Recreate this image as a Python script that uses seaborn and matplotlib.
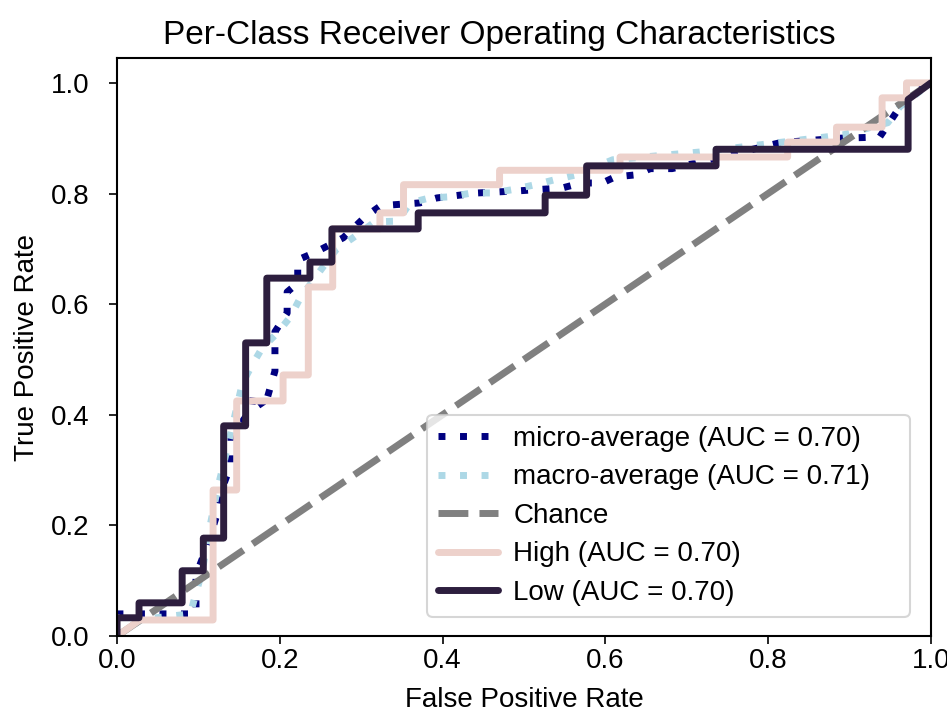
import matplotlib
matplotlib.use("Agg")
import matplotlib.pyplot as plt
import seaborn as sns

# ---- data ----
class_names = ["High", "Low"]
class_auc = [0.70, 0.70]
micro_auc = 0.70
macro_auc = 0.71

high_fpr = [0.0, 0.028, 0.118, 0.118, 0.147, 0.147, 0.204, 0.204, 0.235, 0.235, 0.265, 0.265,
            0.323, 0.323, 0.352, 0.352, 0.47, 0.47, 0.618, 0.618, 0.824, 0.824, 0.884, 0.884,
            0.94, 0.94, 0.97, 0.97, 1.0]
high_tpr = [0.0, 0.029, 0.029, 0.264, 0.264, 0.425, 0.425, 0.472, 0.472, 0.631, 0.631, 0.736,
            0.736, 0.765, 0.765, 0.816, 0.816, 0.842, 0.842, 0.866, 0.866, 0.893, 0.893, 0.92,
            0.92, 0.973, 0.973, 1.0, 1.0]

low_fpr = [0.0, 0.0, 0.027, 0.027, 0.08, 0.08, 0.106, 0.106, 0.131, 0.131, 0.158, 0.158,
           0.184, 0.184, 0.237, 0.237, 0.264, 0.264, 0.37, 0.37, 0.526, 0.526, 0.577, 0.577,
           0.736, 0.736, 0.972, 0.972, 1.0]
low_tpr = [0.0, 0.033, 0.033, 0.06, 0.06, 0.118, 0.118, 0.177, 0.177, 0.38, 0.38, 0.53,
           0.53, 0.647, 0.647, 0.676, 0.676, 0.736, 0.736, 0.765, 0.765, 0.797, 0.797, 0.85,
           0.85, 0.88, 0.88, 0.97, 1.0]

micro_fpr = [0.0, 0.0, 0.097, 0.097, 0.11, 0.125, 0.13, 0.14, 0.14, 0.155, 0.165, 0.168,
             0.181, 0.194, 0.194, 0.209, 0.209, 0.222, 0.222, 0.244, 0.278, 0.305, 0.324,
             0.372, 0.393, 0.443, 0.495, 0.547, 0.57, 0.596, 0.612, 0.639, 0.655, 0.682,
             0.815, 0.888, 0.937, 0.958, 0.978, 1.0]
micro_tpr = [0.0, 0.04, 0.04, 0.11, 0.16, 0.23, 0.27, 0.31, 0.36, 0.39, 0.41, 0.44,
             0.412, 0.479, 0.55, 0.584, 0.622, 0.638, 0.68, 0.694, 0.72, 0.758, 0.778,
             0.783, 0.792, 0.801, 0.805, 0.81, 0.819, 0.819, 0.83, 0.834, 0.845, 0.845,
             0.892, 0.9, 0.902, 0.948, 0.99, 1.0]

macro_fpr = [0.0, 0.03, 0.09, 0.105, 0.114, 0.124, 0.13, 0.154, 0.166, 0.178, 0.197, 0.213,
             0.225, 0.253, 0.27, 0.29, 0.317, 0.345, 0.36, 0.384, 0.409, 0.436, 0.461, 0.486,
             0.514, 0.538, 0.565, 0.609, 0.716, 0.892, 0.947, 0.962, 1.0]
macro_tpr = [0.0, 0.03, 0.04, 0.12, 0.197, 0.27, 0.305, 0.457, 0.49, 0.52, 0.548, 0.577,
             0.611, 0.667, 0.70, 0.72, 0.749, 0.75, 0.783, 0.792, 0.794, 0.801, 0.801, 0.807,
             0.816, 0.825, 0.834, 0.861, 0.875, 0.906, 0.928, 0.957, 1.0]

chance = [0.0, 1.0]

# ---- style ----
sns.set_theme(style="ticks")
plt.rcParams["font.family"] = ["Liberation Sans", "DejaVu Sans"]
plt.rcParams["axes.edgecolor"] = "black"
plt.rcParams["axes.linewidth"] = 1.5
plt.rcParams["xtick.color"] = "black"
plt.rcParams["ytick.color"] = "black"
plt.rcParams["text.color"] = "black"
plt.rcParams["axes.labelcolor"] = "black"

fig = plt.figure(figsize=(9.47, 7.16), dpi=100)
ax = fig.add_axes([0.1236, 0.1117, 0.983 - 0.1236, 0.919 - 0.1117])

palette = sns.cubehelix_palette(2)
lw = 5
dotted = (0, (1, 2.1))
dashed = (0, (4.3, 1.6))
common = dict(sort=False, estimator=None, errorbar=None, ax=ax, linewidth=lw)

sns.lineplot(x=micro_fpr, y=micro_tpr, color="navy", linestyle=dotted,
             label="micro-average (AUC = {:0.2f})".format(micro_auc), **common)
sns.lineplot(x=macro_fpr, y=macro_tpr, color="lightblue", linestyle=dotted,
             label="macro-average (AUC = {:0.2f})".format(macro_auc), **common)
sns.lineplot(x=chance, y=chance, color="gray", linestyle=dashed, label="Chance", **common)
sns.lineplot(x=high_fpr, y=high_tpr, color=palette[0],
             label="{} (AUC = {:0.2f})".format(class_names[0], class_auc[0]), **common)
sns.lineplot(x=low_fpr, y=low_tpr, color=palette[1],
             label="{} (AUC = {:0.2f})".format(class_names[1], class_auc[1]), **common)

ax.set_xlim(0.0, 1.0)
ax.set_ylim(0.0, 1.045)
ax.set_xticks([0.0, 0.2, 0.4, 0.6, 0.8, 1.0])
ax.set_yticks([0.0, 0.2, 0.4, 0.6, 0.8, 1.0])
ax.tick_params(axis="both", labelsize=20, length=5.8, width=1.2, direction="out")
ax.tick_params(axis="x", pad=3)
ax.tick_params(axis="y", pad=14)
ax.set_xlabel("False Positive Rate", fontsize=20, labelpad=9)
ax.set_ylabel("True Positive Rate", fontsize=20, labelpad=8)
ax.set_title("Per-Class Receiver Operating Characteristics", fontsize=24, pad=10, x=0.47)

leg = ax.legend(loc="lower left", bbox_to_anchor=(0.381, 0.033, 0.593, 0.35), mode="expand",
                fontsize=20, frameon=True, handlelength=2.15, handletextpad=0.55,
                labelspacing=0.45, borderaxespad=0.0, fancybox=True)
leg.get_frame().set_edgecolor("#cccccc")
leg.get_frame().set_linewidth(1.5)

fig.savefig("out.png", dpi=100)
